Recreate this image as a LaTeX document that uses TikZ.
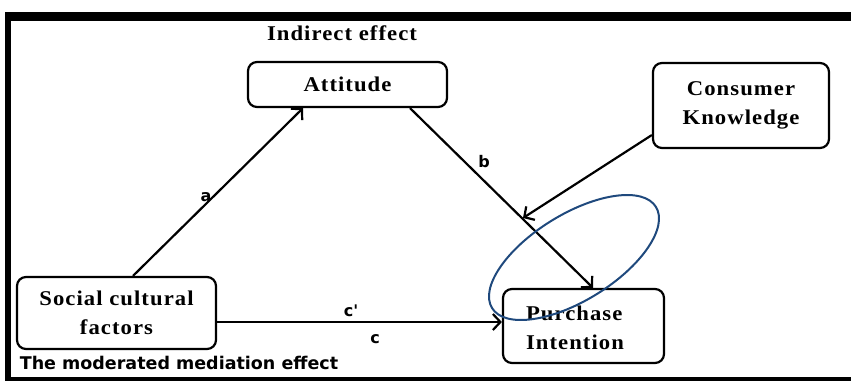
\documentclass[tikz,border=0pt]{standalone}
\usepackage{fontspec}
\usetikzlibrary{arrows.meta}
\setmainfont{Liberation Serif}
\newfontfamily\boxfont{Liberation Serif}[LetterSpace=5,FakeStretch=1.08]
\newfontfamily\labfont{DejaVu Sans}
\definecolor{modblue}{RGB}{31,73,125}
\begin{document}
\begin{tikzpicture}[x=1pt,y=-1pt,
  box/.style={draw, line width=2.2pt, rounded corners=9pt, align=center, inner sep=0pt,
    font=\boxfont\bfseries\fontsize{21}{29}\selectfont},
  boxtext/.style={align=left, inner sep=0pt, font=\boxfont\bfseries\fontsize{21}{29}\selectfont},
  arr/.style={line width=2.2pt, -{Straight Barb[length=7.5pt,width=16pt,line width=2.2pt]}},
  lab/.style={inner sep=0pt, font=\labfont\bfseries\fontsize{16}{18}\selectfont},
  ttl/.style={inner sep=0pt, font=\boxfont\bfseries\fontsize{21}{24}\selectfont}]
\useasboundingbox (0,0) rectangle (851,381);
% frame
\fill (5,12) rectangle (851,21);
\fill (5,12) rectangle (11,381);
\fill (5,377) rectangle (851,381);
% boxes
\node[box, minimum width=199pt, minimum height=45pt] (att) at (347.5,84.5) {Attitude};
\node[box, minimum width=176pt, minimum height=85pt] (ck) at (741,105.5) {Consumer\\Knowledge};
\node[box, minimum width=199pt, minimum height=72pt] (scf) at (116.5,313) {Social cultural\\factors};
\node[box, minimum width=161pt, minimum height=74pt] (pi) at (583.5,326) {};
\node[boxtext] (pitext) at (575,328) {Purchase\\Intention};
% titles
\node[ttl] (ind) at (342,33) {Indirect effect};
\node[lab, font=\labfont\bfseries\fontsize{17.5}{20}\selectfont] (mod) at (179,363) {The moderated mediation effect};
% connectors
\coordinate (ckend) at (523,218);
\draw[arr] ([xshift=16.5pt]scf.north) -- ([xshift=-44.5pt]att.south);
\draw[arr] ([xshift=62.5pt]att.south) -- ([xshift=9.5pt]pi.north);
\draw[arr] ([yshift=-29.5pt]ck.west) -- (ckend);
\draw[arr] ([yshift=-9pt]scf.east) -- ([yshift=-9pt]scf.east -| pi.west);
% labels
\node[lab] (la) at (206,197) {a};
\node[lab] (lb) at (484,162) {b};
\node[lab] (lcp) at (351,311) {c'};
\node[lab] (lc) at (375,339) {c};
% moderation ellipse
\draw[modblue, line width=2pt, rotate around={31.7:(574,257.5)}] (574,257.5) ellipse [x radius=96.3pt, y radius=43.1pt];
\end{tikzpicture}
\end{document}
